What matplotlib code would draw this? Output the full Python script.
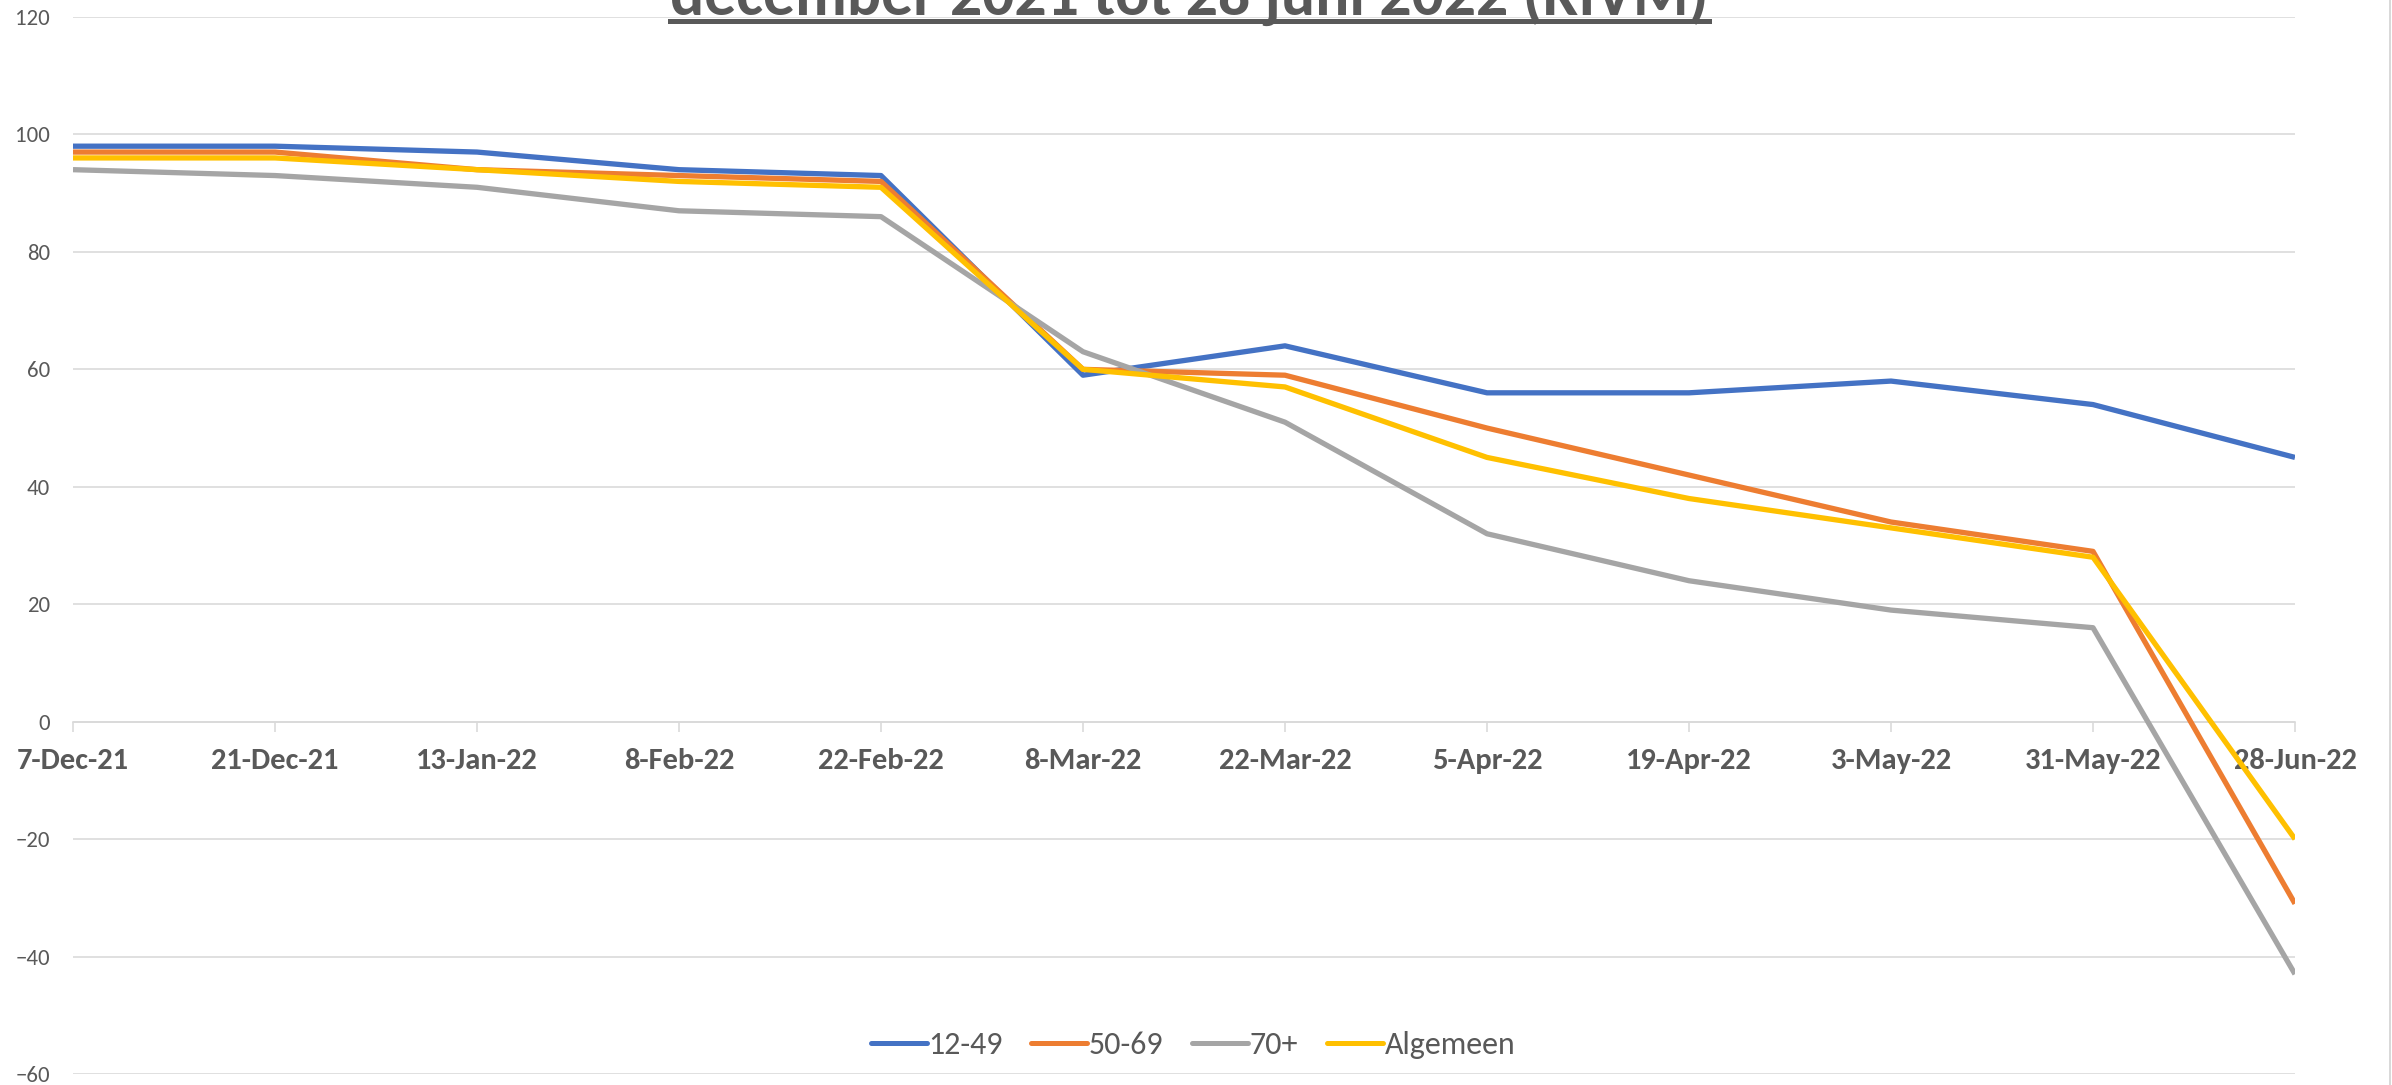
import matplotlib

matplotlib.use("Agg")
import matplotlib.pyplot as plt
from matplotlib import font_manager
from matplotlib.font_manager import FontProperties
from matplotlib.lines import Line2D


DATES = [
    "7-Dec-21", "21-Dec-21", "13-Jan-22", "8-Feb-22", "22-Feb-22", "8-Mar-22",
    "22-Mar-22", "5-Apr-22", "19-Apr-22", "3-May-22", "31-May-22", "28-Jun-22",
]
AGE_12_49 = [98, 98, 97, 94, 93, 59, 64, 56, 56, 58, 54, 45]
AGE_50_69 = [97, 97, 94, 93, 92, 60, 59, 50, 42, 34, 29, -31]
AGE_70_PLUS = [94, 93, 91, 87, 86, 63, 51, 32, 24, 19, 16, -43]
OVERALL = [96, 96, 94, 92, 91, 60, 57, 45, 38, 33, 28, -20]
SERIES_LABELS = ["12-49", "50-69", "70+", "Algemeen"]
Y_TICKS = list(range(-60, 121, 20))
TITLE = "december 2021 tot 28 juni 2022 (RIVM)"

COLORS = ["#4472C4", "#ED7D31", "#A5A5A5", "#FFC000"]
TEXT_COLOR = "#595959"
GRID_COLOR = "#D9D9D9"

W, H, DPI = 2392, 1085, 100


def pick_font(candidates):
    for name in candidates:
        try:
            font_manager.findfont(FontProperties(family=name), fallback_to_default=False)
            return name
        except ValueError:
            continue
    return "DejaVu Sans"


def px(value):
    # pixels -> points at the figure dpi
    return value * 72.0 / DPI


def main():
    font = pick_font(["Carlito", "Lato", "Open Sans"])
    plt.rcParams["font.family"] = [font, "DejaVu Sans"]

    fig = plt.figure(figsize=(W / DPI, H / DPI), dpi=DPI)
    left, right, top, bottom = 73, 2295, 17, 1074
    ax = fig.add_axes([left / W, 1 - bottom / H, (right - left) / W, (bottom - top) / H])

    x = list(range(len(DATES)))
    for values, label, color in zip(
        [AGE_12_49, AGE_50_69, AGE_70_PLUS, OVERALL], SERIES_LABELS, COLORS
    ):
        ax.plot(x, values, color=color, linewidth=px(5.3), label=label,
                solid_joinstyle="round", solid_capstyle="butt", zorder=3)

    ax.set_xlim(0, len(DATES) - 1)
    ax.set_ylim(Y_TICKS[0], Y_TICKS[-1])
    ax.set_yticks(Y_TICKS)
    ax.set_xticks(x, DATES)

    ax.grid(axis="y", color=GRID_COLOR, linewidth=px(1.6), zorder=0)
    for side in ("top", "right", "left"):
        ax.spines[side].set_visible(False)
    ax.spines["bottom"].set_position(("data", 0))
    ax.spines["bottom"].set_color(GRID_COLOR)
    ax.spines["bottom"].set_linewidth(px(1.6))

    ax.tick_params(axis="y", length=0, pad=px(23), labelsize=16.5, labelcolor=TEXT_COLOR)
    ax.tick_params(axis="x", length=px(10), width=px(1.6), color=GRID_COLOR,
                   pad=px(16), labelsize=22, labelcolor=TEXT_COLOR)
    for label in ax.get_xticklabels():
        label.set_fontweight("bold")

    handles = [
        Line2D([], [], color=c, linewidth=px(5), solid_capstyle="round") for c in COLORS
    ]
    fig.legend(handles, SERIES_LABELS, loc="center", ncol=4, frameon=False,
               bbox_to_anchor=(1193 / W, 1 - 1045 / H), fontsize=23,
               labelcolor=TEXT_COLOR, handlelength=1.75, handletextpad=0.05,
               columnspacing=0.9)

    # second title line, only its lower half falls inside the canvas
    title = fig.text(1189.5 / W, 1 - 15 / H, TITLE, ha="center", va="baseline",
                     fontsize=40, fontweight="bold", color=TEXT_COLOR)
    renderer = fig.canvas.get_renderer()
    width = title.get_window_extent(renderer).width
    title.set_fontsize(40 * 1037 / width)
    box = title.get_window_extent(renderer)
    fig.add_artist(Line2D([box.x0 / W, box.x1 / W], [1 - 20.5 / H] * 2,
                          color=TEXT_COLOR, linewidth=px(5)))

    # chart area border on the right edge
    fig.add_artist(Line2D([2390 / W] * 2, [0, 1], color=GRID_COLOR, linewidth=px(2)))

    fig.savefig("out.png", dpi=DPI)
    plt.close(fig)


if __name__ == "__main__":
    main()
